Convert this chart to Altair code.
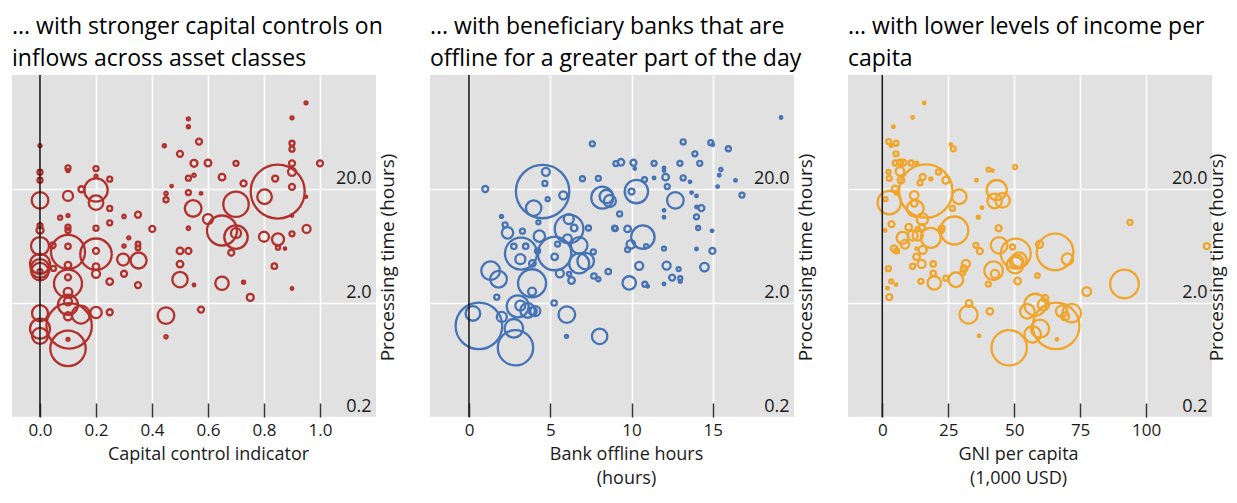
import altair as alt
import pandas as pd

# ---------------- Panel 1: capital controls ----------------
p1_x = [0, 0, 0, 0, 0, 0, 0, 0, 0, 0, 0, 0, 0, 0, 0.045, 0.048,
        0.1, 0.1, 0.1, 0.1, 0.1, 0.1, 0.1, 0.1, 0.1, 0.1, 0.1, 0.1, 0.1, 0.1, 0.146, 0.1, 0.104, 0.1, 0.1, 0.072,
        0.2, 0.2, 0.249, 0.148, 0.2, 0.2, 0.249, 0.249, 0.2, 0.2, 0.2, 0.2, 0.2, 0.249, 0.2, 0.249,
        0.3, 0.3, 0.317, 0.297, 0.3, 0.35, 0.35, 0.35, 0.352, 0.35, 0.401, 0.444, 0.45, 0.45, 0.45, 0.45, 0.47,
        0.5, 0.5, 0.5, 0.5, 0.53, 0.53, 0.53, 0.53, 0.53, 0.53, 0.547, 0.55, 0.55, 0.55, 0.568, 0.575,
        0.6, 0.575, 0.6, 0.65, 0.7, 0.727, 0.7, 0.65, 0.7, 0.7, 0.683, 0.65, 0.727, 0.751,
        0.849, 0.802, 0.84, 0.9, 0.9, 0.9, 0.9, 0.9, 0.9, 0.9, 0.9, 0.95, 1.0, 0.952, 0.8, 0.85, 0.85, 0.875, 0.837, 0.9, 0.95]
p1_y = [47.9, 28.1, 23.9, 15.9, 9.55, 8.7, 6.32, 4.41, 4.02, 3.77, 3.77, 1.63, 1.19, 1.03, 6.41, 4.02,
        30.6, 29.0, 17.4, 11.7, 9.24, 8.65, 5.61, 6.28, 4.3, 3.36, 2.96, 2.49, 2.07, 1.93, 1.58, 1.53, 1.26, 0.80, 0.96, 11.2,
        30.2, 25.9, 24.4, 19.9, 19.6, 15.2, 13.5, 10.1, 9.06, 5.36, 5.73, 4.16, 3.61, 3.08, 1.65, 1.66,
        11.5, 6.32, 7.46, 4.81, 3.61, 11.9, 6.58, 6.08, 4.72, 2.87, 8.93, 47.9, 18.3, 16.1, 1.55, 1.01, 21.2,
        40.7, 5.73, 4.39, 3.21, 82.6, 70.3, 24.9, 18.6, 9.06, 5.73, 13.5, 33.6, 26.4, 2.88, 52.1, 1.75,
        33.8, 18.3, 10.9, 25.4, 33.6, 22.4, 14.7, 8.65, 7.57, 8.2, 5.53, 2.98, 3.04, 2.24,
        19.0, 17.1, 24.7, 50.4, 44.7, 33.6, 28.3, 20.9, 11.7, 8.09, 84.2, 114, 33.6, 8.93, 7.62, 7.23, 6.12, 6.0, 4.21, 2.68, 17.1]
p1_w = [1.5, 2.5, 2.5, 8.3, 2.5, 3.5, 9, 10, 9.3, 8.7, 2.5, 8, 10, 8, 3, 2.5,
        2.5, 1.5, 5, 1.5, 2.5, 2.5, 17, 2.7, 3.3, 3, 14, 4.3, 4, 10, 9, 4, 22.7, 17.7, 1.5, 2,
        2.5, 1.5, 2.5, 3, 11.7, 7.3, 2.5, 2.5, 2.5, 15.7, 3, 3.3, 4, 3.3, 5.7, 3,
        1.7, 1.7, 1.5, 6, 3, 3, 2.3, 2.3, 8, 3, 3, 1.5, 1.7, 2.5, 8.3, 1.7, 1.2,
        3, 3.3, 3.3, 7.7, 1.5, 1.5, 2.5, 2.5, 1.7, 3, 8.3, 3.5, 1.7, 1.3, 3, 3,
        3.3, 1.3, 5, 3.3, 2.5, 3, 12.7, 15, 11.7, 5, 3, 6.7, 1.5, 3.5,
        27, 7.3, 3, 2.5, 2.5, 3, 4, 3, 1.2, 2.5, 1.5, 1.5, 3, 4, 5, 6, 2, 1.2, 2.7, 1.3, 1.2]

# ---------------- Panel 2: bank offline hours ----------------
p2_x = [1.0, 7.59, 9.04, 6.98, 7.96, 4.53, 4.73, 4.67, 4.84, 5.8, 3.98, 2.0, 2.22, 2.37, 3.29, 4.27, 4.33,
        6.14, 6.16, 6.47, 7.35, 6.06, 6.78, 3.2, 2.76, 3.49, 3.16, 5.27, 5.27, 5.45, 4.22, 6.78, 7.18, 7.65,
        3.9, 1.33, 1.82, 3.88, 3.88, 5.59, 6.31, 6.16, 7.69, 7.96, 8.57, 1.71, 3.0, 3.16, 3.61, 3.92, 4.08,
        5.24, 6.02, 2.02, 0.24, 0.61, 2.76, 2.86, 6.0, 8.04, 8.2, 8.45, 8.67, 8.96,
        9.35, 10.12, 10.2, 11.39, 12.0, 12.0, 12.98, 13.18, 13.9, 14.2, 14.88, 15.0, 15.96, 15.5, 15.4, 16.4,
        15.3, 16.8, 19.2, 10.8, 11.39, 12.1, 12.2, 13.18, 13.6, 10.3, 10.0, 12.7, 13.7, 14.0, 14.0, 14.3,
        14.0, 12.0, 12.0, 9.27, 9.0, 9.76, 10.7, 9.96, 9.76, 10.9, 14.1, 14.96, 12.0, 14.0, 14.98, 10.47,
        12.16, 12.9, 14.49, 12.5, 13.0, 13.0, 12.0, 9.86, 10.82, 11.0]
p2_y = [20, 49.8, 33.4, 24.6, 24.8, 19.0, 28.3, 22.4, 16.3, 17.6, 13.6, 11.5, 9.68, 8.25, 8.53, 10.2, 7.72,
        10.9, 8.93, 9.1, 9.1, 7.33, 6.41, 5.43, 6.28, 6.3, 4.85, 5.43, 5.08, 6.58, 5.73, 4.45, 4.66, 5.61,
        4.45, 3.84, 3.23, 2.98, 2.52, 3.64, 3.15, 3.6, 3.45, 3.23, 3.77, 2.25, 1.87, 1.9, 1.72, 1.7, 1.7,
        2.0, 1.58, 1.51, 1.62, 1.26, 1.2, 0.81, 1.02, 1.02, 16.8, 17.2, 15.7, 9.06,
        34.3, 34, 30.2, 33.6, 30.6, 29.0, 33.6, 51.8, 40.7, 33.6, 51, 49, 45.1, 29.6, 26.4, 23.8,
        21, 17.7, 84.8, 24.2, 25, 25.4, 21, 25, 23.1, 19.0, 19, 15.9, 18.6, 17.4, 13.9, 13.6,
        11.4, 13, 11.3, 12.1, 9, 8.93, 7.57, 6.54, 5.88, 6.3, 9.1, 8.59, 6.0, 5.95, 5.73, 4.24,
        4.26, 3.97, 4.13, 3.34, 3.3, 3.1, 2.94, 3.0, 2.92, 2.8]
p2_w = [3, 2.5, 2.5, 2.5, 2.5, 26.7, 4, 2.5, 2, 4, 7.7, 1.5, 2.5, 5.7, 2.5, 2, 5.7,
        5, 14.3, 3.3, 2.5, 4.3, 8.3, 16, 2.7, 2.7, 5, 16.7, 3.3, 2.5, 2.5, 10, 8.3, 2.5,
        3.3, 9.3, 8.3, 14, 4, 4, 3.3, 2, 2.7, 2, 2.7, 2.5, 11, 5, 7.3, 4, 5,
        2.7, 8.3, 5, 7.3, 23.3, 9.3, 17.7, 1.5, 7.7, 11, 6.7, 6, 2.5,
        3.3, 3, 1.3, 2.5, 1.3, 1.3, 2.5, 2.5, 2.5, 2.5, 2.5, 1.3, 2.5, 1.7, 1.3, 1.3,
        1.3, 2.5, 1.3, 2.5, 1.3, 3.3, 2.5, 2.5, 1.3, 11.7, 3, 8.3, 1.3, 1.3, 1.3, 3,
        2.5, 1.3, 1.3, 2.5, 2.5, 3.3, 11.7, 4.3, 2.5, 2, 2, 1.3, 2, 1.3, 3, 4,
        4, 2, 4.3, 3, 2, 1.5, 1.3, 6.7, 2.5, 1.3]

# ---------------- Panel 3: GNI per capita ----------------
p3_x = [15.9, 11.5, 4.2, 2.4, 5.2, 3.3, 5.2, 26, 26.9, 4.9, 6.8, 8, 10.9, 13.1, 6.7, 2.4, 2.65, 7.1,
        15.3, 14.3, 21.3, 24.1, 18.4, 16.5, 12.1, 4.9, 5.4, 2.65, 1.2, 12.5, 15.2, 12.1, 29.2, 26.6,
        35.7, 40.3, 41.8, 50.4, 43.4, 42.6, 45.6, 37.8, 36.4, 3.5, 1.1, 10.0, 7.7, 8.6, 4.5, 5.4,
        11.5, 13.4, 13.4, 15.0, 18.4, 15.3, 13.0, 13.0, 22.5, 22.3, 27.3, 11.5, 14.9, 19.3, 19.3, 19.7,
        14.6, 24.1, 27.9, 31.7, 31.0, 30.5, 2.3, 3.4, 2.0, 5.2, 2.65, 35.5, 37, 44.1, 44.3, 42.2, 42.7,
        40.2, 50.6, 49.4, 50.9, 51.9, 50.3, 51.3, 32.7, 32.9, 40.8, 36.7, 48.1, 55.0,
        93.9, 123, 65.5, 59.6, 70.2, 58.8, 91.8, 77.5, 58, 61.1, 65.9, 59.8, 57, 68, 69.3, 71.8, 66.2, 61.7]
p3_y = [113.6, 84.8, 70.3, 52.1, 50.4, 47.9, 40.7, 49.3, 45, 33.8, 34.3, 34, 33.8, 33.8, 28.6, 28.2, 24.8, 23.9,
        25.5, 22.7, 28.2, 23.9, 24.5, 19.2, 17.6, 20, 18.6, 15.2, 16.3, 13.5, 10.9, 15, 17.1, 13.5,
        23.9, 29.6, 29, 31.1, 19.6, 15.7, 15.9, 13.7, 11.3, 9.83, 8.66, 9.24, 7.46, 6.55, 6.0, 5.73,
        7.8, 7.8, 8.9, 9.2, 7.46, 5.86, 5.08, 6.0, 9.0, 8.6, 8.65, 4.2, 4.4, 4.4, 3.64, 3.0,
        3.1, 3.3, 3.2, 4.4, 4.0, 3.7, 4.0, 3.1, 2.7, 2.9, 2.25, 6.41, 5.7, 9.06, 6.41, 3.84, 3.6,
        2.93, 5.43, 6.2, 4.65, 4.8, 4.3, 3.12, 1.58, 1.98, 1.69, 1.03, 0.81, 1.69,
        10.2, 6.32, 5.61, 6.54, 4.85, 3.48, 2.94, 2.52, 1.93, 1.93, 1.26, 1.19, 1.06, 1.69, 1.53, 1.63, 0.96, 2.2]
p3_w = [1.3, 1.3, 1.3, 2.5, 2.5, 1.3, 2.5, 1.3, 2.5, 2.5, 3, 3, 2.5, 1.3, 4.3, 2, 2.5, 3.3,
        3, 2.5, 2.5, 3.5, 1.5, 26.7, 4.3, 3.3, 2, 11.7, 2, 8.3, 5.7, 3.3, 7.3, 2.5,
        1.3, 2, 1.3, 2, 10, 7.3, 7.3, 1.3, 1.5, 3, 1.3, 3.3, 6, 4.3, 3.3, 2.5,
        5, 5, 2, 3, 10, 4, 3.3, 1.3, 3, 2.5, 14, 2.5, 4, 2.7, 2.7, 6.7,
        2.5, 2.5, 7.3, 4, 3.3, 2.5, 2.5, 2, 1.3, 1.3, 3, 2.5, 3, 3, 8.3, 9.3, 4,
        2.5, 15, 2.5, 6.7, 7.3, 8.3, 3.3, 9, 3.3, 3.3, 1.3, 17.7, 7.3,
        2.5, 3, 18.3, 3.5, 5.7, 2.3, 14.3, 4.3, 11, 5.7, 23.3, 9, 8.3, 5.7, 4, 9.3, 1.3, 3.3]

FONT = "Open Sans"
TXT = "#1a1a1a"
W, H = 364, 342


def panel(xs, ys, ws, color, xdomain, xvalues, xfmt, title_lines, xtitle, xtitle_x, ytitle_x):
    df = pd.DataFrame({"x": xs, "y": ys, "w": ws})
    zero = pd.DataFrame({"x": [0]})
    x_axis = alt.Axis(values=xvalues, format=xfmt, grid=True, gridColor="#ffffff",
                      gridWidth=1.6, gridOpacity=1, domain=False, ticks=True,
                      tickColor="#333333", tickWidth=1.5, tickSize=14, offset=-14,
                      labelFont=FONT, labelFontSize=17, labelColor=TXT, labelPadding=5,
                      labelFlush=False, labelOverlap=False, title=xtitle, titleFont=FONT,
                      titleFontSize=18, titleFontWeight="normal", titleColor=TXT,
                      titlePadding=7, titleX=xtitle_x, titleAlign="center",
                      titleLineHeight=24.5)
    y_axis = alt.Axis(orient="right", values=[0.2, 2, 20], format=".1f", grid=True,
                      gridColor="#ffffff", gridWidth=1.6, gridOpacity=1, domain=False,
                      ticks=False, labelFont=FONT, labelAlign="right",
                      labelBaseline="alphabetic", labelPadding=-5, labelOffset=-6,
                      labelFontSize=18, labelColor=TXT, labelFlush=False,
                      labelOverlap=False, title="Processing time (hours)", titleFont=FONT,
                      titleAngle=270, titleAlign="center", titleBaseline="middle",
                      titleX=ytitle_x, titleY=182, titleFontSize=19, titleFontWeight="normal",
                      titleColor=TXT)
    xscale = alt.Scale(domain=xdomain, nice=False, zero=False)
    pts = alt.Chart(df).mark_point(
        shape="circle", filled=False, strokeWidth=2.3, opacity=1, color=color
    ).encode(
        x=alt.X("x:Q", scale=xscale, axis=x_axis),
        y=alt.Y("y:Q", scale=alt.Scale(type="log", domain=[0.2, 200], nice=False), axis=y_axis),
        size=alt.Size("w:Q", scale=alt.Scale(type="pow", exponent=2, domain=[0, 30],
                                             range=[0, 3600]), legend=None),
    )
    rule = alt.Chart(zero).mark_rule(color="#1a1a1a", strokeWidth=1.6).encode(
        x=alt.X("x:Q", scale=xscale, axis=x_axis)
    )
    return alt.layer(pts, rule).properties(
        width=W, height=H,
        title=alt.Title(text=title_lines, anchor="start", fontSize=23, fontWeight="normal",
                        font=FONT, color="black", lineHeight=32, offset=3, frame="group"),
    )


c1 = panel(p1_x, p1_y, p1_w, "#b2302c", [-0.1, 1.2], [0, 0.2, 0.4, 0.6, 0.8, 1.0], ".1f",
           ["... with stronger capital controls on", "inflows across asset classes"],
           "Capital control indicator", 196, 11)
c2 = panel(p2_x, p2_y, p2_w, "#4673b5", [-2.4, 20], [0, 5, 10, 15], "d",
           ["... with beneficiary banks that are", "offline for a greater part of the day"],
           ["Bank offline hours", "(hours)"], 196, 11)
c3 = panel(p3_x, p3_y, p3_w, "#f0a52a", [-13, 125], [0, 25, 50, 75, 100], "d",
           ["... with lower levels of income per", "capita"],
           ["GNI per capita", "(1,000 USD)"], 170, 4)

chart = alt.hconcat(c1, c2, c3, spacing=54, bounds="flush").properties(
    padding={"left": 4, "top": 8, "right": 2, "bottom": 2},
    background="white",
).configure_view(fill="#e1e1e1", stroke=None).configure_axis(
    labelFont=FONT, titleFont=FONT, gridColor="#ffffff"
)

chart.save("out.html", embed_options={"renderer": "svg", "actions": False})
